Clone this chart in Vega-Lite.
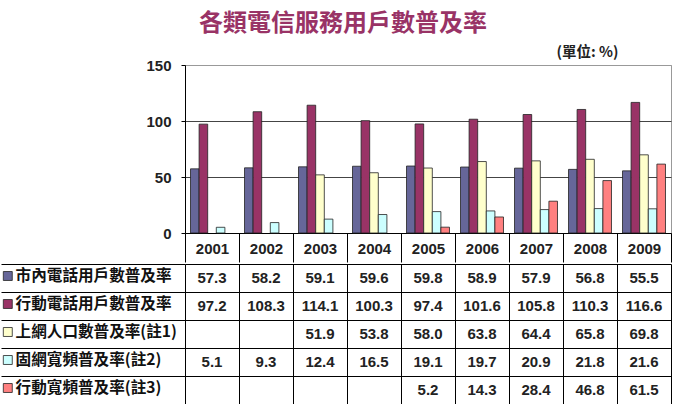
{
  "$schema": "https://vega.github.io/schema/vega-lite/v6.json",
  "padding": {"left": 0, "top": 12, "right": 2, "bottom": 0},
  "background": "white",
  "title": {
    "text": "各類電信服務用戶數普及率",
    "font": "Noto Sans CJK TC",
    "fontSize": 24,
    "fontWeight": "bold",
    "color": "#993366",
    "anchor": "middle",
    "offset": 8,
    "dx": 7
  },
  "config": {"font": "Liberation Sans", "view": {"stroke": null}},
  "datasets": {
    "rates": [
      {"year": "2001", "series": "市內電話用戶數普及率", "value": 57.3},
      {"year": "2002", "series": "市內電話用戶數普及率", "value": 58.2},
      {"year": "2003", "series": "市內電話用戶數普及率", "value": 59.1},
      {"year": "2004", "series": "市內電話用戶數普及率", "value": 59.6},
      {"year": "2005", "series": "市內電話用戶數普及率", "value": 59.8},
      {"year": "2006", "series": "市內電話用戶數普及率", "value": 58.9},
      {"year": "2007", "series": "市內電話用戶數普及率", "value": 57.9},
      {"year": "2008", "series": "市內電話用戶數普及率", "value": 56.8},
      {"year": "2009", "series": "市內電話用戶數普及率", "value": 55.5},
      {"year": "2001", "series": "行動電話用戶數普及率", "value": 97.2},
      {"year": "2002", "series": "行動電話用戶數普及率", "value": 108.3},
      {"year": "2003", "series": "行動電話用戶數普及率", "value": 114.1},
      {"year": "2004", "series": "行動電話用戶數普及率", "value": 100.3},
      {"year": "2005", "series": "行動電話用戶數普及率", "value": 97.4},
      {"year": "2006", "series": "行動電話用戶數普及率", "value": 101.6},
      {"year": "2007", "series": "行動電話用戶數普及率", "value": 105.8},
      {"year": "2008", "series": "行動電話用戶數普及率", "value": 110.3},
      {"year": "2009", "series": "行動電話用戶數普及率", "value": 116.6},
      {"year": "2003", "series": "上網人口數普及率(註1)", "value": 51.9},
      {"year": "2004", "series": "上網人口數普及率(註1)", "value": 53.8},
      {"year": "2005", "series": "上網人口數普及率(註1)", "value": 58.0},
      {"year": "2006", "series": "上網人口數普及率(註1)", "value": 63.8},
      {"year": "2007", "series": "上網人口數普及率(註1)", "value": 64.4},
      {"year": "2008", "series": "上網人口數普及率(註1)", "value": 65.8},
      {"year": "2009", "series": "上網人口數普及率(註1)", "value": 69.8},
      {"year": "2001", "series": "固網寬頻普及率(註2)", "value": 5.1},
      {"year": "2002", "series": "固網寬頻普及率(註2)", "value": 9.3},
      {"year": "2003", "series": "固網寬頻普及率(註2)", "value": 12.4},
      {"year": "2004", "series": "固網寬頻普及率(註2)", "value": 16.5},
      {"year": "2005", "series": "固網寬頻普及率(註2)", "value": 19.1},
      {"year": "2006", "series": "固網寬頻普及率(註2)", "value": 19.7},
      {"year": "2007", "series": "固網寬頻普及率(註2)", "value": 20.9},
      {"year": "2008", "series": "固網寬頻普及率(註2)", "value": 21.8},
      {"year": "2009", "series": "固網寬頻普及率(註2)", "value": 21.6},
      {"year": "2005", "series": "行動寬頻普及率(註3)", "value": 5.2},
      {"year": "2006", "series": "行動寬頻普及率(註3)", "value": 14.3},
      {"year": "2007", "series": "行動寬頻普及率(註3)", "value": 28.4},
      {"year": "2008", "series": "行動寬頻普及率(註3)", "value": 46.8},
      {"year": "2009", "series": "行動寬頻普及率(註3)", "value": 61.5}
    ]
  },
  "spacing": 0,
  "vconcat": [
    {
      "width": 486,
      "height": 168,
      "title": {
        "text": "(單位: %)",
        "anchor": "end",
        "font": "Noto Sans CJK TC",
        "fontSize": 14.5,
        "fontWeight": "bold",
        "color": "#222",
        "dx": -53,
        "offset": -2
      },
      "view": {"stroke": "#999"},
      "data": {"name": "rates"},
      "mark": {"type": "bar", "stroke": "#222", "strokeWidth": 0.8},
      "encoding": {
        "x": {
          "field": "year",
          "type": "ordinal",
          "scale": {"paddingInner": 0, "paddingOuter": 0},
          "axis": {
            "orient": "bottom",
            "title": null,
            "tickBand": "extent",
            "tickSize": 29,
            "tickColor": "#000",
            "domainColor": "#000",
            "labelFont": "Liberation Sans",
            "labelFontSize": 15,
            "labelFontWeight": "bold",
            "labelColor": "#222",
            "labelPadding": -21,
            "labelAngle": 0,
            "labelBaseline": "top"
          }
        },
        "xOffset": {
          "field": "series",
          "type": "nominal",
          "scale": {
            "domain": ["市內電話用戶數普及率", "行動電話用戶數普及率", "上網人口數普及率(註1)", "固網寬頻普及率(註2)", "行動寬頻普及率(註3)"],
            "paddingInner": 0,
            "paddingOuter": 0.64
          }
        },
        "y": {
          "field": "value",
          "type": "quantitative",
          "scale": {"domain": [0, 150], "nice": false},
          "axis": {
            "values": [0, 50, 100, 150],
            "title": null,
            "grid": true,
            "gridColor": {"condition": {"test": "datum.value === 150", "value": "#999"}, "value": "#444"},
            "gridOpacity": 1,
            "tickSize": 4,
            "tickColor": "#000",
            "domainColor": "#000",
            "labelFont": "Liberation Sans",
            "labelFontSize": 15,
            "labelFontWeight": "bold",
            "labelColor": "#222",
            "labelPadding": 10
          }
        },
        "color": {
          "field": "series",
          "type": "nominal",
          "scale": {
            "domain": ["市內電話用戶數普及率", "行動電話用戶數普及率", "上網人口數普及率(註1)", "固網寬頻普及率(註2)", "行動寬頻普及率(註3)"],
            "range": ["#666699", "#993366", "#FFFFCC", "#CCFFFF", "#FF8080"]
          },
          "legend": {
            "orient": "none",
            "legendX": -185,
            "legendY": 197,
            "padding": 0,
            "title": null,
            "symbolType": "square",
            "symbolSize": 80,
            "symbolStrokeColor": "#222",
            "symbolStrokeWidth": 0.8,
            "symbolOpacity": 1,
            "labelFont": "Noto Sans CJK TC",
            "labelFontSize": 15.6,
            "labelFontWeight": "bold",
            "labelColor": "#111",
            "labelOffset": 0,
            "labelLimit": 300,
            "clipHeight": 28,
            "rowPadding": 0
          }
        }
      }
    },
    {
      "width": 486,
      "height": 140,
      "view": {"stroke": null},
      "data": {"name": "rates"},
      "mark": {"type": "text", "font": "Liberation Sans", "fontWeight": "bold", "fontSize": 15, "fill": "#222", "baseline": "middle"},
      "encoding": {
        "x": {
          "field": "year",
          "type": "ordinal",
          "scale": {"paddingInner": 0, "paddingOuter": 0},
          "axis": {
            "orient": "top",
            "title": null,
            "labels": false,
            "ticks": false,
            "domain": false,
            "grid": true,
            "tickBand": "extent",
            "gridColor": "#000",
            "gridOpacity": 1
          }
        },
        "y": {
          "field": "series",
          "type": "nominal",
          "scale": {
            "domain": ["市內電話用戶數普及率", "行動電話用戶數普及率", "上網人口數普及率(註1)", "固網寬頻普及率(註2)", "行動寬頻普及率(註3)"],
            "paddingInner": 0,
            "paddingOuter": 0
          },
          "axis": {
            "title": null,
            "labels": false,
            "ticks": true,
            "tickSize": 184,
            "tickColor": "#000",
            "tickBand": "extent",
            "grid": true,
            "gridColor": "#000",
            "gridOpacity": 1,
            "domain": false
          }
        },
        "text": {"field": "value", "type": "quantitative", "format": ".1f"}
      }
    }
  ]
}
